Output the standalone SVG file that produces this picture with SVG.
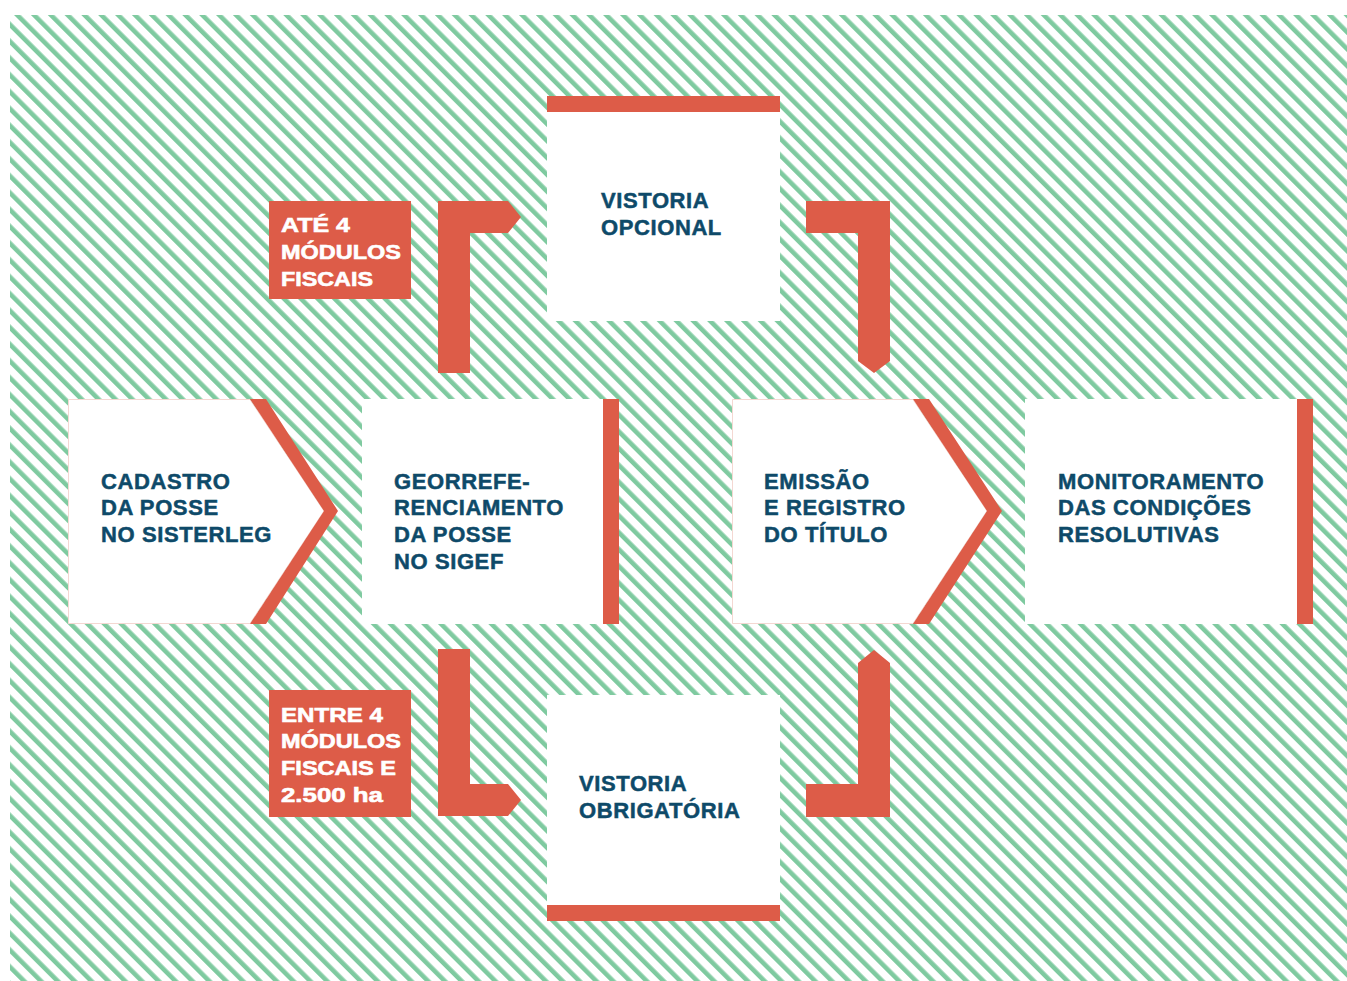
<svg xmlns="http://www.w3.org/2000/svg" width="1347" height="981" viewBox="0 0 1347 981">
  <defs>
    <pattern id="stripes" patternUnits="userSpaceOnUse" width="11.9" height="11.9" patternTransform="translate(14,15) rotate(-45)">
      <rect x="0" y="0" width="4.6" height="11.9" fill="#7fcaa0"/>
    </pattern>
    <style>
      .box { fill: #ffffff; }
      .edge { fill: #ffffff; stroke: #f4d8d2; stroke-width: 1; }
      .red { fill: #dd5c48; }
      .t { font-family: "Liberation Sans", Arial, sans-serif; font-weight: bold; font-size: 22px; fill: #0e4a69; stroke: #0e4a69; stroke-width: 0.5; letter-spacing: 0.6px; }
      .lbl { font-family: "Liberation Sans", Arial, sans-serif; font-weight: bold; font-size: 19.5px; fill: #ffffff; stroke: #ffffff; stroke-width: 0.6; }
    </style>
  </defs>
  <rect x="0" y="0" width="1347" height="981" fill="#ffffff"/>
  <rect x="10" y="15" width="1337" height="966" fill="url(#stripes)"/>

  <g id="connectors">
    <polygon class="red" points="438,373 438,201 508,201 521,217 508,233 470,233 470,373"/>
    <polygon class="red" points="806,201 890,201 890,361 874,373 858,361 858,233 806,233"/>
    <polygon class="red" points="438,649 470,649 470,784 508,784 521,800 508,816 438,816"/>
    <polygon class="red" points="806,784 858,784 858,663 874,650 890,663 890,817 806,817"/>
  </g>

  <g id="label-ate4">
    <rect class="red" x="269" y="201" width="142" height="98"/>
    <text class="lbl" x="281" y="232" textLength="69" lengthAdjust="spacingAndGlyphs">ATÉ 4</text>
    <text class="lbl" x="281" y="259" textLength="120" lengthAdjust="spacingAndGlyphs">MÓDULOS</text>
    <text class="lbl" x="281" y="286" textLength="92" lengthAdjust="spacingAndGlyphs">FISCAIS</text>
  </g>

  <g id="label-entre4">
    <rect class="red" x="269" y="690" width="142" height="127"/>
    <text class="lbl" x="281" y="722" textLength="102" lengthAdjust="spacingAndGlyphs">ENTRE 4</text>
    <text class="lbl" x="281" y="748" textLength="120" lengthAdjust="spacingAndGlyphs">MÓDULOS</text>
    <text class="lbl" x="281" y="775" textLength="115" lengthAdjust="spacingAndGlyphs">FISCAIS E</text>
    <text class="lbl" x="281" y="802" textLength="102" lengthAdjust="spacingAndGlyphs">2.500 ha</text>
  </g>

  <g id="node-vistoria-opcional">
    <rect class="red" x="547" y="96" width="233" height="16"/>
    <rect class="box" x="547" y="112" width="233" height="209"/>
    <text class="t" x="601" y="208">VISTORIA</text>
    <text class="t" x="601" y="235">OPCIONAL</text>
  </g>

  <g id="node-vistoria-obrigatoria">
    <rect class="box" x="547" y="695" width="233" height="210"/>
    <rect class="red" x="547" y="905" width="233" height="16"/>
    <text class="t" x="579" y="791">VISTORIA</text>
    <text class="t" x="579" y="818">OBRIGATÓRIA</text>
  </g>

  <g id="node-cadastro">
    <polygon class="edge" points="68.5,399.5 250,399.5 324,511 250,623.5 68.5,623.5"/>
    <polygon class="red" points="250,399 266,399 338,511 266,624 250,624 324,511"/>
    <text class="t" x="101" y="489">CADASTRO</text>
    <text class="t" x="101" y="515">DA POSSE</text>
    <text class="t" x="101" y="542">NO SISTERLEG</text>
  </g>

  <g id="node-georref">
    <rect class="box" x="362" y="399" width="241" height="225"/>
    <rect class="red" x="603" y="399" width="16" height="225"/>
    <text class="t" x="394" y="489">GEORREFE-</text>
    <text class="t" x="394" y="515">RENCIAMENTO</text>
    <text class="t" x="394" y="542">DA POSSE</text>
    <text class="t" x="394" y="569">NO SIGEF</text>
  </g>

  <g id="node-emissao">
    <polygon class="edge" points="732.5,399.5 913,399.5 987,511 913,623.5 732.5,623.5"/>
    <polygon class="red" points="913,399 929,399 1002,511 929,624 913,624 987,511"/>
    <text class="t" x="764" y="489">EMISSÃO</text>
    <text class="t" x="764" y="515">E REGISTRO</text>
    <text class="t" x="764" y="542">DO TÍTULO</text>
  </g>

  <g id="node-monitoramento">
    <rect class="box" x="1025" y="399" width="272" height="225"/>
    <rect class="red" x="1297" y="399" width="16" height="225"/>
    <text class="t" x="1058" y="489">MONITORAMENTO</text>
    <text class="t" x="1058" y="515">DAS CONDIÇÕES</text>
    <text class="t" x="1058" y="542">RESOLUTIVAS</text>
  </g>
</svg>
